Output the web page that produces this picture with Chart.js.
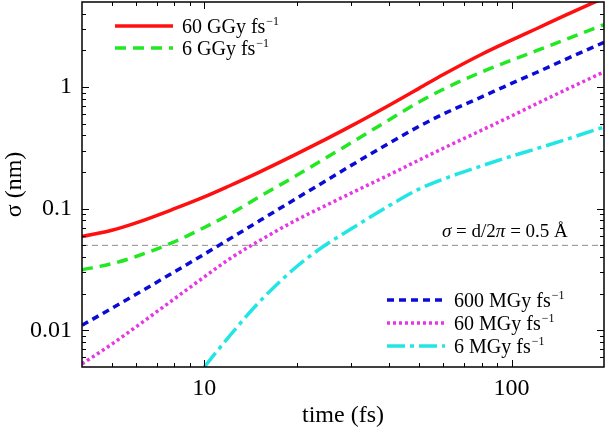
<!DOCTYPE html>
<html>
<head>
<meta charset="utf-8">
<script src="https://cdn.jsdelivr.net/npm/chart.js@4.4.1/dist/chart.umd.min.js"></script>
<style>
  html, body { margin: 0; padding: 0; background: #fff; }
  #wrap { width: 607px; height: 430px; }
</style>
</head>
<body>
<div id="wrap"><canvas id="c" width="607" height="430"></canvas></div>
<script>
// ---- data ----
const times = [4, 5, 6, 8, 10, 12, 15, 20, 25, 30, 40, 50, 60, 80, 100, 120, 150, 200];
const sigma60GGy  = [0.059, 0.0665, 0.0765, 0.100, 0.125, 0.153, 0.198, 0.282, 0.375, 0.477, 0.709, 0.975, 1.267, 1.86, 2.43, 3.0, 3.9, 5.4];
const sigma6GGy   = [0.0315, 0.0353, 0.0405, 0.0535, 0.070, 0.089, 0.124, 0.188, 0.263, 0.347, 0.538, 0.753, 0.96, 1.33, 1.66, 1.98, 2.46, 3.26];
const sigma600MGy = [0.011, 0.0152, 0.0198, 0.0303, 0.0423, 0.0558, 0.0786, 0.122, 0.171, 0.226, 0.346, 0.475, 0.60, 0.83, 1.07, 1.31, 1.69, 2.33];
const sigma60MGy  = [0.0053, 0.0077, 0.0107, 0.0182, 0.0275, 0.0382, 0.054, 0.081, 0.107, 0.134, 0.19, 0.251, 0.314, 0.442, 0.578, 0.724, 0.948, 1.33];
const sigma6MGy   = [null, null, null, null, 0.005, 0.0088, 0.0168, 0.0335, 0.051, 0.068, 0.106, 0.145, 0.175, 0.225, 0.27, 0.31, 0.37, 0.47];
const seriesLabels = ['60 GGy fs', '6 GGy fs', '600 MGy fs', '60 MGy fs', '6 MGy fs'];
const labelSup = '\u22121';
const refSigma = 0.05;            // sigma = d/2pi = 0.5 Angstrom
const xTickVals = [10, 100];
const yTickVals = [0.01, 0.1, 1];
const xRange = [4, 200];
const yRange = [0.005, 5];

const serif = "'Liberation Serif', 'Times New Roman', serif";

const pts = arr => times.map((t, i) => ({ x: t, y: arr[i] }));

function series(label, arr, color, dash) {
  return {
    label, data: pts(arr), borderColor: color, backgroundColor: color,
    borderWidth: 3.5, borderDash: dash, pointRadius: 0,
    cubicInterpolationMode: 'monotone', spanGaps: false, fill: false
  };
}

const datasets = [
  series(seriesLabels[0], sigma60GGy, '#ff1010', []),
  series(seriesLabels[1], sigma6GGy, '#22e822', [11, 7]),
  series(seriesLabels[2], sigma600MGy, '#0b0bd6', [7, 5]),
  series(seriesLabels[3], sigma60MGy, '#e636e6', [3, 3]),
  series(seriesLabels[4], sigma6MGy, '#22e6e6', [18, 5, 4, 5]),
  {
    label: 'ref', data: [{ x: xRange[0], y: refSigma }, { x: xRange[1], y: refSigma }],
    borderColor: '#8c8c8c', borderWidth: 1, borderDash: [6, 4], pointRadius: 0, tension: 0
  }
];

// frame with inward ticks on all four sides
const frame = {
  id: 'frame',
  afterDatasetsDraw(chart) {
    const { ctx, chartArea: a, scales: { x, y } } = chart;
    ctx.save();
    ctx.setLineDash([]);
    ctx.strokeStyle = '#000';
    ctx.lineWidth = 1;
    ctx.beginPath();
    for (let e = 0; e <= 3; e++) for (let m = 1; m < 10; m++) {
      const v = m * Math.pow(10, e);
      if (v <= x.min || v >= x.max) continue;
      const px = Math.round(x.getPixelForValue(v)) + 0.5;
      const len = m === 1 ? 7 : 4;
      ctx.moveTo(px, a.bottom); ctx.lineTo(px, a.bottom - len);
      ctx.moveTo(px, a.top); ctx.lineTo(px, a.top + len);
    }
    for (let e = -3; e <= 1; e++) for (let m = 1; m < 10; m++) {
      const v = m * Math.pow(10, e);
      if (v <= y.min * 1.0001 || v >= y.max) continue;
      const py = Math.round(y.getPixelForValue(v)) + 0.5;
      const len = m === 1 ? 7 : 4;
      ctx.moveTo(a.left, py); ctx.lineTo(a.left + len, py);
      ctx.moveTo(a.right, py); ctx.lineTo(a.right - len, py);
    }
    ctx.stroke();
    ctx.lineWidth = 1.5;
    ctx.strokeRect(a.left, a.top, a.right - a.left, a.bottom - a.top);
    ctx.restore();
  }
};

function supText(ctx, x, y, base, sup, size) {
  ctx.font = size + 'px ' + serif;
  ctx.fillText(base, x, y);
  const w = ctx.measureText(base).width;
  ctx.font = Math.round(size * 0.62) + 'px ' + serif;
  ctx.fillText(sup, x + w + 1, y - size * 0.42);
}

// legends (two groups) and the annotation
const notes = {
  id: 'notes',
  afterDraw(chart) {
    const ctx = chart.ctx;
    ctx.save();
    ctx.fillStyle = '#000';
    ctx.textBaseline = 'alphabetic';
    const groups = [
      { idx: [0, 1], x0: 115, x1: 173, tx: 182, y: [26, 48] },
      { idx: [2, 3, 4], x0: 387, x1: 445, tx: 454, y: [300, 323, 346] }
    ];
    groups.forEach(g => {
      g.idx.forEach((di, k) => {
        const ds = chart.data.datasets[di];
        ctx.strokeStyle = ds.borderColor;
        ctx.lineWidth = ds.borderWidth;
        ctx.setLineDash(ds.borderDash);
        ctx.beginPath();
        ctx.moveTo(g.x0, g.y[k]); ctx.lineTo(g.x1, g.y[k]);
        ctx.stroke();
        ctx.setLineDash([]);
        supText(ctx, g.tx, g.y[k] + 7, ds.label, labelSup, 20);
      });
    });

    // sigma = d/2pi = 0.5 A
    const parts = [['σ', true], [' = d/2', false], ['π', true], [' = 0.5 Å', false]];
    let x = 442;
    parts.forEach(([t, it]) => {
      ctx.font = (it ? 'italic ' : '') + '19px ' + serif;
      ctx.fillText(t, x, 237);
      x += ctx.measureText(t).width;
    });
    ctx.restore();
  }
};

new Chart(document.getElementById('c'), {
  type: 'line',
  data: { datasets },
  options: {
    responsive: false,
    animation: false,
    layout: { padding: { top: 2, right: 3, left: 0, bottom: 0 } },
    plugins: { legend: { display: false }, tooltip: { enabled: false } },
    scales: {
      x: {
        type: 'logarithmic', min: xRange[0], max: xRange[1],
        grid: { display: false, drawTicks: false }, border: { display: false },
        afterBuildTicks: s => { s.ticks = xTickVals.map(v => ({ value: v })); },
        afterFit: s => { s.height = 63; s.paddingLeft = 0; s.paddingRight = 0; },
        ticks: { color: '#000', padding: 7, autoSkip: false, maxRotation: 0,
          font: { family: serif, size: 24 }, callback: v => String(v) },
        title: { display: true, text: 'time (fs)', color: '#000',
          font: { family: serif, size: 24 }, padding: { top: 0, bottom: 0 } }
      },
      y: {
        type: 'logarithmic', min: yRange[0], max: yRange[1],
        grid: { display: false, drawTicks: false }, border: { display: false },
        afterBuildTicks: s => { s.ticks = yTickVals.map(v => ({ value: v })); },
        afterFit: s => { s.width = 82; s.paddingTop = 0; s.paddingBottom = 0; },
        ticks: { color: '#000', padding: 10, autoSkip: false,
          font: { family: serif, size: 24 }, callback: v => String(v) },
        title: { display: true, text: 'σ (nm)', color: '#000',
          font: { family: serif, size: 24 }, padding: { top: 0, bottom: 0 } }
      }
    }
  },
  plugins: [frame, notes]
});
</script>
</body>
</html>
